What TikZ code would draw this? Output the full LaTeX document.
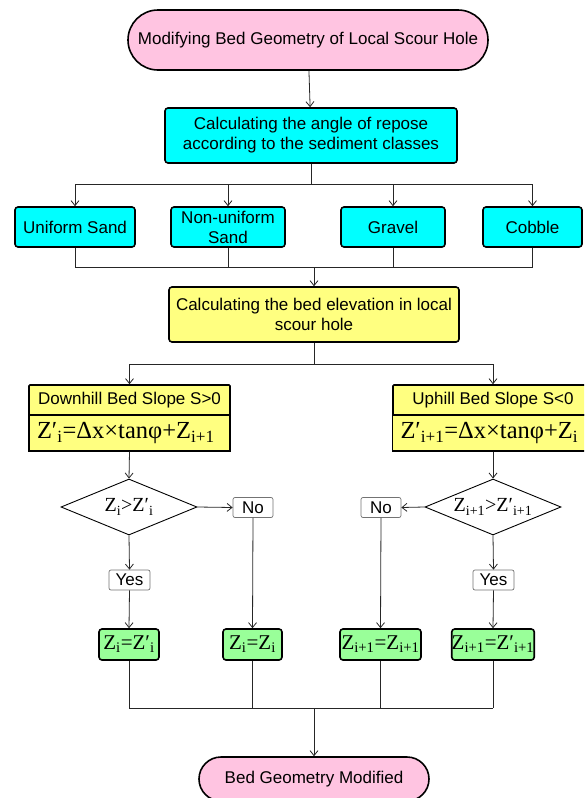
\documentclass[tikz,border=0pt]{standalone}
\usepackage{fontspec}
\setmainfont{Liberation Sans}
\newfontfamily\eqfont{Liberation Serif}
\usetikzlibrary{arrows.meta, positioning, shapes.geometric, shapes.misc}
\definecolor{termpink}{RGB}{255,196,225}
\definecolor{boxcyan}{RGB}{0,255,255}
\definecolor{boxyellow}{RGB}{255,255,128}
\definecolor{boxgreen}{RGB}{153,255,153}
\newcommand{\zsub}[1]{\textsubscript{#1}}

\begin{document}
\begin{tikzpicture}[x=1pt, y=-1pt, line width=0.8pt, draw=black!85,
    arr/.style={-{Straight Barb[length=5pt,width=8pt]}},
    term/.style={rounded rectangle, draw=black, line width=1.6pt, fill=termpink, inner sep=0pt,
        font=\fontsize{17}{20}\selectfont},
    proc/.style={rectangle, draw=black, line width=1.6pt, rounded corners=3pt, align=center,
        inner sep=0pt, font=\fontsize{17}{20}\selectfont},
    eqbox/.style={rectangle, draw=black, line width=1.4pt, fill=boxyellow, minimum height=36,
        inner xsep=8pt, inner ysep=0pt, text width=185, align=left,
        font=\eqfont\fontsize{24.5}{26}\selectfont},
    test/.style={diamond, draw=black, line width=0.9pt, aspect=2.4, inner sep=0pt,
        minimum width=136, minimum height=56, font=\eqfont\fontsize{20}{22}\selectfont},
    answer/.style={rectangle, draw=black!55, line width=0.7pt, rounded corners=2pt, fill=white,
        inner sep=0pt, minimum height=20, font=\fontsize{17}{20}\selectfont},
    result/.style={proc, fill=boxgreen, minimum height=31, font=\eqfont\fontsize{21}{23}\selectfont}]
    \useasboundingbox (0,0) rectangle (584,798);
    \clip (0,0) rectangle (584,798);

    % Start and sediment classes
    \node[term, minimum width=360, minimum height=60] (start) at (308,40)
        {Modifying Bed Geometry of Local Scour Hole};
    \node[proc, fill=boxcyan, minimum width=292, minimum height=55] (angle) at (311,135.5)
        {Calculating the angle of repose\\according to the sediment classes};

    \node[proc, fill=boxcyan, minimum width=120, minimum height=40] (usand) at (75,227) {Uniform Sand};
    \node[proc, fill=boxcyan, minimum width=114, minimum height=40] (nusand) at (228,227) {Non-uniform\\Sand};
    \node[proc, fill=boxcyan, minimum width=104, minimum height=40] (gravel) at (393,227) {Gravel};
    \node[proc, fill=boxcyan, minimum width=99, minimum height=40] (cobble) at (532.5,227) {Cobble};

    % Bed elevation
    \node[proc, fill=boxyellow, minimum width=290, minimum height=55] (elev) at (314,314.5)
        {Calculating the bed elevation in local\\scour hole};

    \node[proc, fill=boxyellow, rounded corners=1pt, minimum width=201, minimum height=30] (downhead) at (129.5,400)
        {Downhill Bed Slope S>0};
    \node[eqbox] (downeq) at (129.5,433) {Z′\zsub{i}=Δx×tanφ+Z\zsub{i+1}};
    \node[proc, fill=boxyellow, rounded corners=1pt, minimum width=200, minimum height=30] (uphead) at (493,400)
        {Uphill Bed Slope S<0};
    \node[eqbox] (upeq) at (493,433) {Z′\zsub{i+1}=Δx×tanφ+Z\zsub{i}};

    % Tests
    \node[test] (dtest) at (129,507) {Z\zsub{i}>Z′\zsub{i}};
    \node[test] (utest) at (493,507) {Z\zsub{i+1}>Z′\zsub{i+1}};
    \node[answer, minimum width=40] (dno) at (253,507.5) {No};
    \node[answer, minimum width=40] (uno) at (381,507.5) {No};
    \node[answer, minimum width=41] (dyes) at (129.5,580) {Yes};
    \node[answer, minimum width=41] (uyes) at (493.5,580) {Yes};

    % Results
    \node[result, minimum width=60] (dset) at (129,644.5) {Z\zsub{i}=Z′\zsub{i}};
    \node[result, minimum width=59] (dkeep) at (252.5,644.5) {Z\zsub{i}=Z\zsub{i}};
    \node[result, minimum width=81] (ukeep) at (380.5,644.5) {Z\zsub{i+1}=Z\zsub{i+1}};
    \node[result, minimum width=80] (uset) at (493,644.5) {Z\zsub{i+1}=Z′\zsub{i+1}};

    \node[term, minimum width=230, minimum height=44] (finish) at (314,779) {Bed Geometry Modified};

    % Connectors
    \coordinate (bar1) at (311,184);
    \coordinate (bar2) at (314,267);
    \coordinate (bar3) at (314,364);
    \coordinate (bar4) at (314,708);

    \draw[arr] (start) -- (angle);
    \draw (angle.south) -- (bar1);
    \draw (usand |- bar1) -- (cobble |- bar1);
    \draw (usand |- bar2) -- (cobble |- bar2);
    \foreach \n in {usand, nusand, gravel, cobble} {
        \draw[arr] (\n |- bar1) -- (\n.north);
        \draw (\n.south) -- (\n |- bar2);
    }
    \draw[arr] (bar2) -- (elev.north);

    \draw (elev.south) -- (bar3);
    \draw (downhead |- bar3) -- (uphead |- bar3);
    \draw[arr] (downhead |- bar3) -- (downhead.north);
    \draw[arr] (uphead |- bar3) -- (uphead.north);

    \draw[arr] (downeq.south) -- (dtest.north);
    \draw[arr] (dtest.east) -- (dno.west);
    \draw[arr] (dtest.south) -- (dyes.north);
    \draw[arr] (dyes.south) -- (dset.north);
    \draw[arr] (dno.south) -- (dkeep.north);

    \draw[arr] (upeq.south) -- (utest.north);
    \draw[arr] (utest.west) -- (uno.east);
    \draw[arr] (utest.south) -- (uyes.north);
    \draw[arr] (uyes.south) -- (uset.north);
    \draw[arr] (uno.south) -- (ukeep.north);

    \foreach \n in {dset, dkeep, ukeep, uset}
        \draw (\n.south) -- (\n |- bar4);
    \draw (dset |- bar4) -- (uset |- bar4);
    \draw[arr] (bar4) -- (finish.north);
\end{tikzpicture}
\end{document}
